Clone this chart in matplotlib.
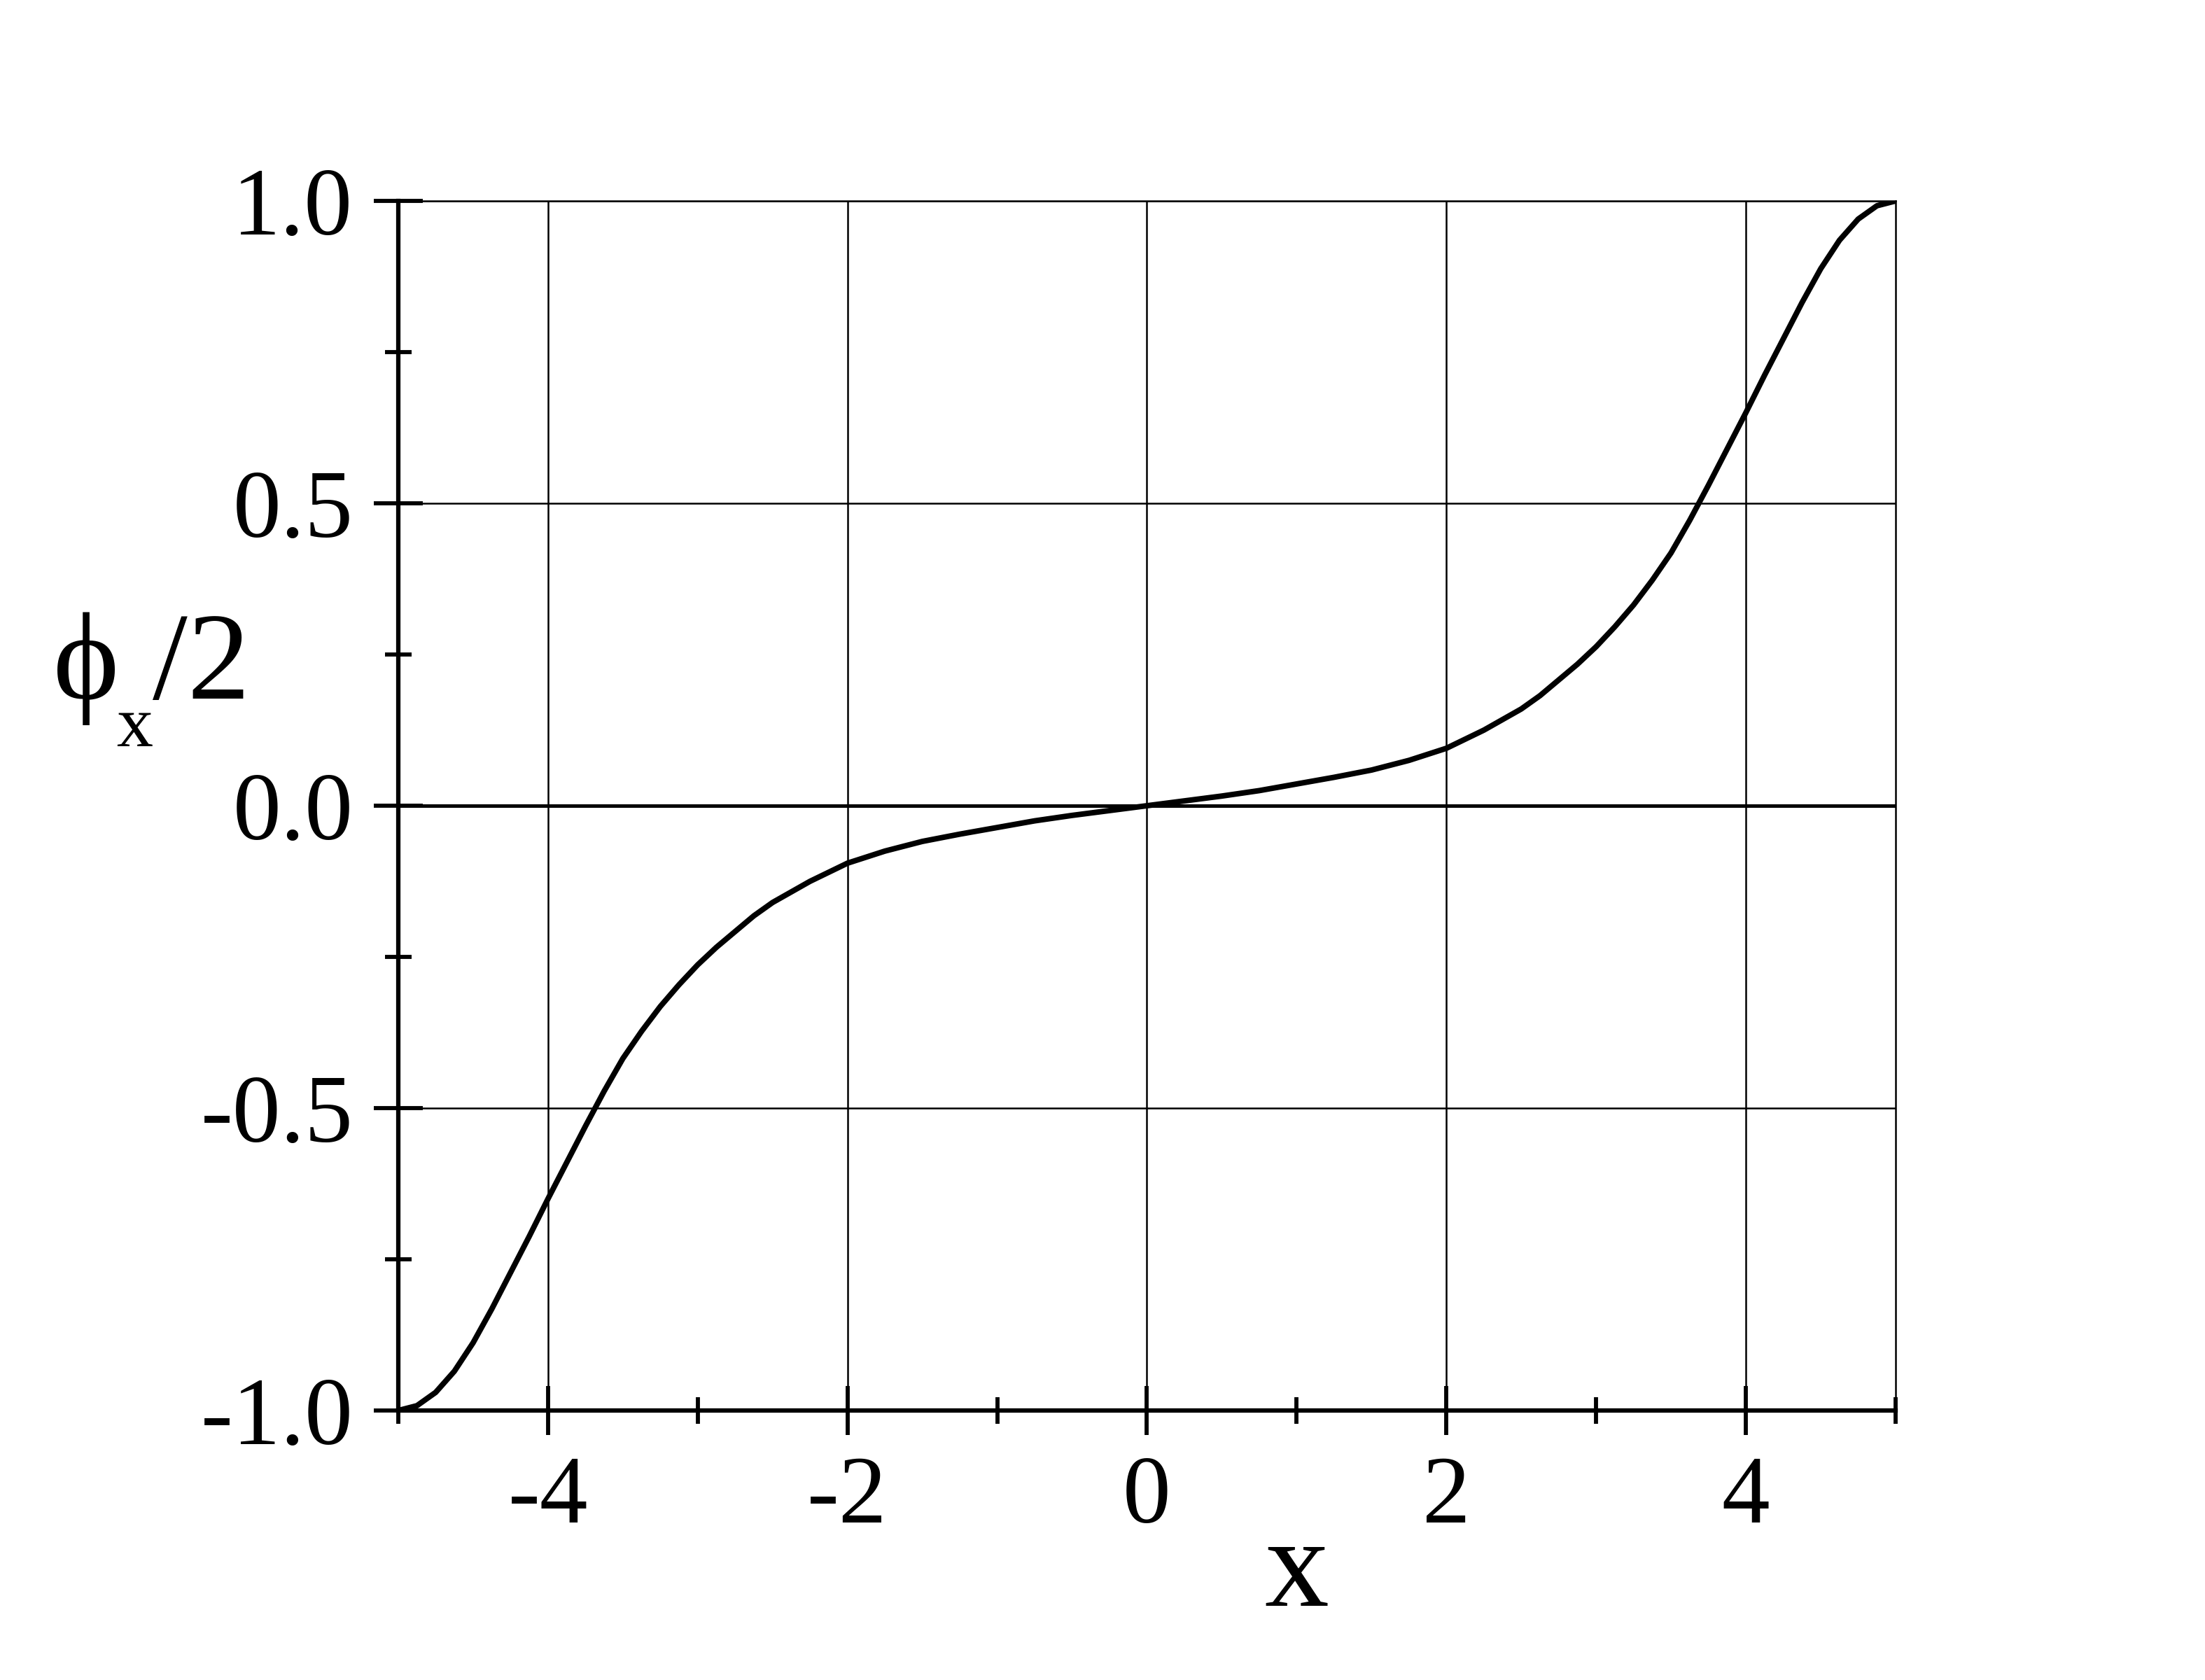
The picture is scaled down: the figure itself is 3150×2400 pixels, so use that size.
import numpy as np
import matplotlib
matplotlib.use("Agg")
import matplotlib.pyplot as plt
from matplotlib.ticker import FixedLocator, FormatStrFormatter

plt.rcParams['font.family'] = ['Liberation Serif', 'DejaVu Serif']
plt.rcParams['axes.unicode_minus'] = False

# values
x_vals = [-5.0, -4.875, -4.75, -4.625, -4.5, -4.375, -4.25, -4.125, -4.0, -3.875,
          -3.75, -3.625, -3.5, -3.375, -3.25, -3.125, -3.0, -2.875, -2.75, -2.625,
          -2.5, -2.25, -2.0, -1.75, -1.5, -1.25, -1.0, -0.75, -0.5, -0.25,
          0.0,
          0.25, 0.5, 0.75, 1.0, 1.25, 1.5, 1.75, 2.0, 2.25,
          2.5, 2.625, 2.75, 2.875, 3.0, 3.125, 3.25, 3.375, 3.5, 3.625,
          3.75, 3.875, 4.0, 4.125, 4.25, 4.375, 4.5, 4.625, 4.75, 4.875, 5.0]
phi_half = [-1.0, -0.992, -0.97, -0.935, -0.888, -0.832, -0.772, -0.712, -0.65, -0.59,
            -0.53, -0.472, -0.418, -0.373, -0.332, -0.296, -0.263, -0.234, -0.208, -0.182,
            -0.16, -0.125, -0.095, -0.075, -0.059, -0.047, -0.036, -0.025, -0.016, -0.008,
            0.0,
            0.008, 0.016, 0.025, 0.036, 0.047, 0.059, 0.075, 0.095, 0.125,
            0.16, 0.182, 0.208, 0.234, 0.263, 0.296, 0.332, 0.373, 0.418, 0.472,
            0.53, 0.59, 0.65, 0.712, 0.772, 0.832, 0.888, 0.935, 0.97, 0.992, 1.0]

x_major = [-4, -2, 0, 2, 4]
x_minor = [-5, -3, -1, 1, 3, 5]
y_major = [-1.0, -0.5, 0.0, 0.5, 1.0]
y_minor = [-0.75, -0.25, 0.25, 0.75]

fig = plt.figure(figsize=(10.5, 8), dpi=300)
ax = fig.add_axes([0.1806, 0.1604, 0.8597 - 0.1806, 0.8804 - 0.1604])

ax.plot(x_vals, phi_half, color='black', lw=1.9, solid_joinstyle='round', zorder=5)
ax.axhline(0, color='black', lw=1.2, zorder=3)

ax.set_xlim(-5, 5)
ax.set_ylim(-1, 1)
ax.xaxis.set_major_locator(FixedLocator(x_major))
ax.xaxis.set_minor_locator(FixedLocator(x_minor))
ax.yaxis.set_major_locator(FixedLocator(y_major))
ax.yaxis.set_minor_locator(FixedLocator(y_minor))
ax.yaxis.set_major_formatter(FormatStrFormatter('%.1f'))
ax.xaxis.set_major_formatter(FormatStrFormatter('%d'))

ax.grid(True, which='major', color='black', lw=0.6)
ax.tick_params(which='major', direction='inout', length=17, width=1.4,
               labelsize=33, pad=7)
ax.tick_params(which='minor', direction='inout', length=9, width=1.4)

for s in ['left', 'bottom']:
    ax.spines[s].set_linewidth(1.5)
for s in ['top', 'right']:
    ax.spines[s].set_linewidth(0.6)

# axis labels
fig.text(1852 / 3150, 1 - 2250 / 2400, 'x', fontsize=44, ha='center', va='center')
fig.text(76 / 3150, 1 - 998 / 2400, '\u03d5', fontsize=43, ha='left', va='baseline')
fig.text(166 / 3150, 1 - 1066 / 2400, 'x', fontsize=25, ha='left', va='baseline')
fig.text(218 / 3150, 1 - 998 / 2400, '/2', fontsize=43, ha='left', va='baseline')

fig.savefig('out.png', dpi=300, facecolor='white')
